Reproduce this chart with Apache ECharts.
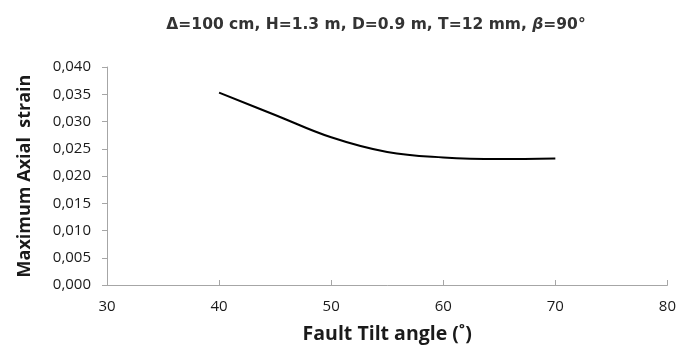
<!DOCTYPE html>
<html>
<head>
<meta charset="utf-8">
<script src="https://cdn.jsdelivr.net/npm/echarts@6/dist/echarts.min.js"></script>
<style>
  html, body { margin: 0; padding: 0; background: #fff; }
  #chart { width: 679px; height: 349px; }
</style>
</head>
<body>
<div id="chart"></div>
<script>
// Fault tilt angle (deg) and max axial strain
const tiltAngles = [40, 45, 50, 55, 60, 65, 70];
const axialStrain = [0.0353, 0.0312, 0.0271, 0.0244, 0.0234, 0.0231, 0.0232];

const xTicks = { min: 30, max: 80, interval: 10 };
const yTicks = { min: 0, max: 0.04, interval: 0.005 };

const chart = echarts.init(document.getElementById('chart'));

const axisGrey = '#a6a6a6';
const labelFont = 'Open Sans';

chart.setOption({
  animation: false,
  title: {
    text: 'Δ=100 cm, H=1.3 m, D=0.9 m, T=12 mm, {b|β}=90°',
    left: 371,
    top: 12,
    textAlign: 'center',
    textStyle: {
      fontFamily: 'DejaVu Sans',
      fontSize: 15.5,
      fontWeight: 'bold',
      color: '#333',
      rich: {
        b: {
          fontFamily: 'DejaVu Sans',
          fontSize: 15.5,
          fontWeight: 'bold',
          fontStyle: 'italic',
          color: '#333'
        }
      }
    }
  },
  grid: {
    left: 107,
    right: 7,
    top: 67,
    bottom: 64,
    containLabel: false
  },
  xAxis: {
    type: 'value',
    min: xTicks.min,
    max: xTicks.max,
    interval: xTicks.interval,
    name: 'Fault Tilt angle (˚)',
    nameLocation: 'middle',
    nameGap: 39,
    nameTextStyle: {
      fontFamily: labelFont,
      fontSize: 19.5,
      fontWeight: 'bold',
      color: '#1a1a1a'
    },
    axisLine: { lineStyle: { color: axisGrey, width: 1 } },
    axisTick: { inside: true, length: 5, lineStyle: { color: axisGrey } },
    splitLine: { show: false },
    axisLabel: {
      fontFamily: labelFont,
      fontSize: 15,
      color: '#1a1a1a',
      margin: 14
    }
  },
  yAxis: {
    type: 'value',
    min: yTicks.min,
    max: yTicks.max,
    interval: yTicks.interval,
    name: 'Maximum Axial  strain',
    nameLocation: 'middle',
    nameGap: 73,
    nameTextStyle: {
      fontFamily: labelFont,
      fontSize: 18,
      fontWeight: 'bold',
      color: '#1a1a1a'
    },
    axisLine: { show: true, lineStyle: { color: axisGrey, width: 1 } },
    axisTick: { show: true, length: 5, lineStyle: { color: axisGrey } },
    splitLine: { show: false },
    axisLabel: {
      fontFamily: labelFont,
      fontSize: 15,
      color: '#1a1a1a',
      margin: 16,
      formatter: (v) => v.toFixed(3).replace('.', ',')
    }
  },
  series: [
    {
      type: 'line',
      data: tiltAngles.map((a, i) => [a, axialStrain[i]]),
      smooth: 0.4,
      showSymbol: false,
      lineStyle: { color: '#000', width: 2 }
    }
  ]
});
</script>
</body>
</html>
